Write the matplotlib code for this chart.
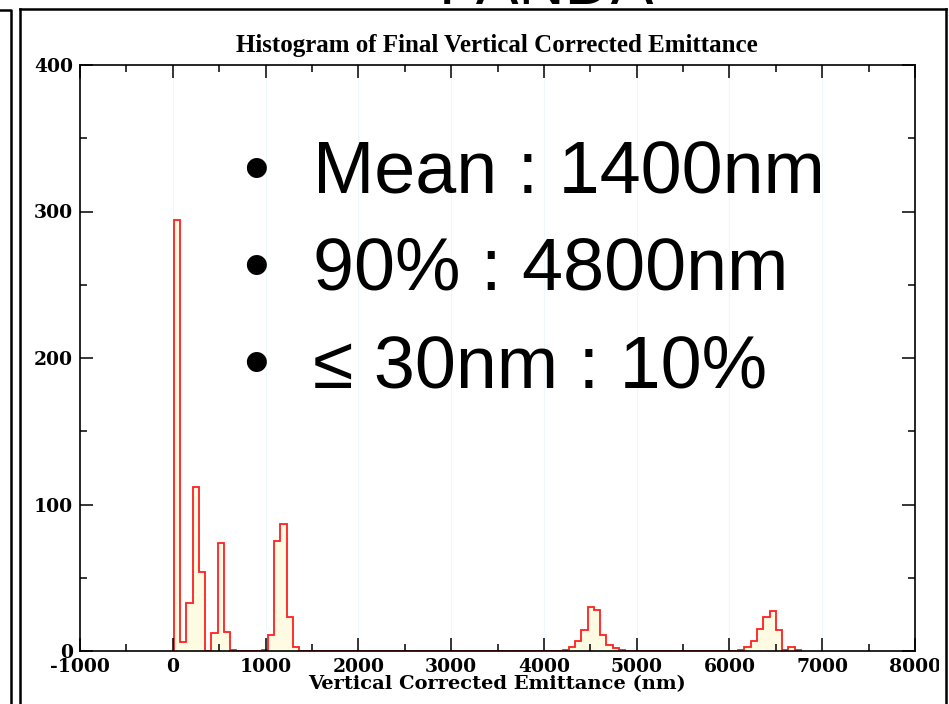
import numpy as np
import matplotlib
matplotlib.use("Agg")
import matplotlib.pyplot as plt
from matplotlib.lines import Line2D
from matplotlib.patches import Rectangle

plt.rcParams["axes.unicode_minus"] = False

# histogram: 100 bins of equal width from the smallest to the largest emittance
bin_start = 10.0
bin_width = 67.6
counts = ([294, 6, 33, 112, 54, 0, 12, 74, 13, 1] + [0] * 4 +
          [1, 11, 75, 87, 23, 3] + [0] * 42 +
          [1, 3, 7, 14, 30, 28, 11, 4, 2, 1] + [0] * 18 +
          [1, 3, 7, 15, 23, 27, 14, 1, 3, 1])
edges = bin_start + bin_width * np.arange(len(counts) + 1)

xticks = [-1000, 0, 1000, 2000, 3000, 4000, 5000, 6000, 7000, 8000]
yticks = [0, 100, 200, 300, 400]
bullets = ["Mean : 1400nm", "90% : 4800nm", "\u2264 30nm : 10%"]

W, H = 949, 704
fig = plt.figure(figsize=(W / 100, H / 100), dpi=100)
fig.patch.set_facecolor("white")

def fx(px):
    return px / W

def fy(py):
    return 1 - py / H

ax = fig.add_axes([fx(80), fy(651), fx(915) - fx(80), fy(65) - fy(651)])
ax.set_xlim(-1000, 8000)
ax.set_ylim(0, 400)

for x in xticks[1:-1]:
    ax.axvline(x, color="#eef8fb", lw=0.8, zorder=0)

ax.stairs(counts, edges, baseline=0, fill=True, color="#fffbe3", zorder=1)
ax.stairs(counts, edges, baseline=0, color="#ff2020", lw=1.3, zorder=1.5)

for s in ax.spines.values():
    s.set_linewidth(1.2)
    s.set_zorder(3)

ax.set_xticks(xticks)
ax.set_yticks(yticks)
ax.set_xticks(np.arange(-500, 8000, 1000), minor=True)
ax.set_yticks(np.arange(50, 400, 100), minor=True)
ax.tick_params(which="both", direction="in", top=True, right=True, width=1.1)
ax.tick_params(which="major", length=9.5, pad=5)
ax.tick_params(which="minor", length=5)
for lbl in ax.get_xticklabels() + ax.get_yticklabels():
    lbl.set_fontfamily("DejaVu Serif")
    lbl.set_fontweight("bold")
    lbl.set_fontsize(13.5)

ax.set_xlabel("Vertical Corrected Emittance (nm)", family="DejaVu Serif",
              fontweight="bold", fontsize=14)
ax.xaxis.set_label_coords(0.5, -0.041)

fig.text(fx(497), fy(52), "Histogram of Final Vertical Corrected Emittance",
         ha="center", va="baseline", family="Liberation Serif",
         fontweight="bold", fontsize=18)

# slide text
for i, line in enumerate(bullets):
    yb = fy(193 + 97 * i)
    fig.text(fx(256), yb, "\u2022", ha="center", va="baseline",
             family="Liberation Sans", fontsize=53)
    fig.text(fx(313), yb, line, ha="left", va="baseline",
             family="Liberation Sans", fontsize=53)

fig.text(fx(546), fy(4), "PANDA", ha="center", va="baseline",
         family="Liberation Sans", fontsize=46)

# the slide frame cuts the last tick label
fig.add_artist(Rectangle((fx(939), fy(690)), fx(946) - fx(939), fy(652) - fy(690),
                         transform=fig.transFigure, facecolor="white",
                         edgecolor="none", zorder=10))

# slide frame lines
frame = dict(color="black", lw=1.8, transform=fig.transFigure, zorder=11)
fig.add_artist(Line2D([fx(20), fx(946)], [fy(9), fy(9)], **frame))
fig.add_artist(Line2D([fx(20), fx(20)], [fy(9), fy(710)], **frame))
fig.add_artist(Line2D([fx(946), fx(946)], [fy(9), fy(710)], **frame))
fig.add_artist(Line2D([fx(0), fx(11), fx(11)], [fy(10), fy(10), fy(710)], **frame))

fig.savefig("out.png", dpi=100)
